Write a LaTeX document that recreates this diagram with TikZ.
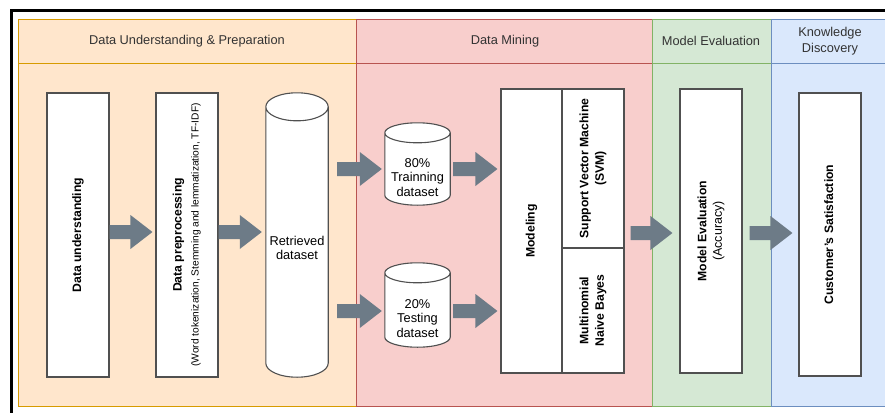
\documentclass[tikz,border=0pt]{standalone}
\usepackage{fontspec}
\usepackage{graphicx}
\setmainfont{Liberation Sans}
\usetikzlibrary{calc}
\definecolor{orfill}{HTML}{FFE6CC}
\definecolor{orline}{HTML}{D79B00}
\definecolor{rdfill}{HTML}{F8CECC}
\definecolor{rdline}{HTML}{B85450}
\definecolor{grfill}{HTML}{D5E8D4}
\definecolor{grline}{HTML}{82B366}
\definecolor{blfill}{HTML}{DAE8FC}
\definecolor{blline}{HTML}{6C8EBF}
\definecolor{arrowcol}{HTML}{6D7B87}
\definecolor{boxcol}{HTML}{505050}
\definecolor{txtcol}{HTML}{333333}
\newcommand\fhdr{\fontsize{12.8}{16}\selectfont}
\newcommand\fcyl{\fontsize{12.8}{14.6}\selectfont}
\newcommand\fbx{\fontsize{12.2}{15.5}\selectfont}
\newcommand\fsub{\fontsize{10.2}{12}\selectfont}
\newcommand\vt[1]{\rotatebox{90}{\begin{tabular}{@{}c@{}}#1\end{tabular}}}
\newcommand\barrow[2]{\fill[arrowcol] let \p1=(#1), \p2=(#2) in
  (\x1,\y1+7pt) -- (\x2-22pt,\y1+7pt) -- (\x2-22pt,\y1+17pt) -- (\x2,\y1)
  -- (\x2-22pt,\y1-17pt) -- (\x2-22pt,\y1-7pt) -- (\x1,\y1-7pt) -- cycle;}
\newcommand\cyl[2]{\draw[boxline, fill=white] let \p1=(#1.north west), \p2=(#1.south east), \n1={(\x2-\x1)/2} in
  (\x1,\y1-#2) -- (\x1,\y2+#2) arc[start angle=180, end angle=360, x radius=\n1, y radius=#2]
  -- (\x2,\y1-#2) arc[start angle=0, end angle=180, x radius=\n1, y radius=#2] -- cycle
  (\x1,\y1-#2) arc[start angle=180, end angle=360, x radius=\n1, y radius=#2];}
\tikzset{
  boxline/.style={draw=boxcol, line width=1.1pt},
  box/.style={boxline, fill=white, rectangle, inner sep=0pt, minimum width=62pt, font=\fbx\bfseries},
  cylgeo/.style={rectangle, inner sep=0pt, minimum width=#1},
  hdr/.style={align=center, text=txtcol, font=\fhdr, inner sep=0pt},
  ctext/.style={align=center, text=black, font=\fcyl, inner sep=0pt},
  pool/.style={line width=0.8pt}
}
\begin{document}
\begin{tikzpicture}[x=1pt,y=-1pt]
\useasboundingbox (0,0) rectangle (885,412);
\clip (0,0) rectangle (885,412);
\fill[white] (0,0) rectangle (885,412);
\draw[line width=2.6pt] (11.3,10.8) rectangle (900,430);
% pools
\draw[pool, fill=orfill, draw=orline] (18,19) rectangle (356,406);
\draw[pool, draw=orline] (18,63) -- (356,63);
\draw[pool, fill=rdfill, draw=rdline] (356,19) rectangle (652,406);
\draw[pool, draw=rdline] (356,63) -- (652,63);
\draw[pool, fill=grfill, draw=grline] (652,19) rectangle (771,406);
\draw[pool, draw=grline] (652,63) -- (771,63);
\draw[pool, fill=blfill, draw=blline] (771,19) rectangle (889,406);
\draw[pool, draw=blline] (771,63) -- (889,63);
\node[hdr] (h1) at (187,41) {Data Understanding \& Preparation};
\node[hdr] (h2) at (505,41) {Data Mining};
\node[hdr] (h3) at (711,41) {Model Evaluation};
\node[hdr] (h4) at (830,41.5) {Knowledge\\Discovery};
% boxes
\node[box, minimum height=284pt] (du) at (78,235) {\vt{Data understanding}};
\node[box, minimum height=284pt] (dp) at (187,235) {\vt{Data preprocessing\\[1.5pt] {\fsub\mdseries (Word tokenization, Stemming and lemmatization, TF-IDF)}}};
\node[cylgeo=62pt, minimum height=284pt] (ret) at (297,235) {};
\cyl{ret}{14pt}
\node[ctext] (rett) at (297,248) {Retrieved\\dataset};
\node[cylgeo=65pt, minimum height=82pt] (t80) at (417.5,164) {};
\cyl{t80}{10pt}
\node[ctext] (t80t) at (417.5,177.5) {80\%\\Trainning\\dataset};
\node[cylgeo=65pt, minimum height=84pt] (t20) at (417.5,305) {};
\cyl{t20}{10pt}
\node[ctext] (t20t) at (417.5,318.5) {20\%\\Testing\\dataset};
\node[box, minimum width=61pt, minimum height=284pt] (mod) at (531.5,231) {\vt{Modeling}};
\node[box, minimum height=159pt] (svm) at (593,168.5) {\vt{Support Vector Machine\\(SVM)}};
\node[box, minimum height=125pt] (mnb) at (593,310.5) {\vt{Multinomial\\Naive Bayes}};
\node[box, minimum height=284pt] (me) at (711,231) {\vt{Model Evaluation\\{\fontsize{12.5}{15}\selectfont\mdseries (Accuracy)}}};
\node[box, minimum height=283pt] (cs) at (830,234.5) {\vt{Customer's Satisfaction}};
% arrows
\barrow{$(du.east)+(0,-3)$}{$(dp.west)+(-3,0)$}
\barrow{$(dp.east)+(0,-3)$}{$(ret.west)+(-4,0)$}
\barrow{$(ret.east |- t80.center)+(9,5)$}{$(t80.west)+(-3,0)$}
\barrow{$(ret.east |- t20.center)+(9,6)$}{$(t20.west)+(-3,0)$}
\barrow{$(t80.east)+(3,5)$}{$(mod.west)+(-3,0)$}
\barrow{$(t20.east)+(3,6)$}{$(mod.west)+(-3,0)$}
\barrow{$(svm.east |- me.center)+(6,2)$}{$(me.west)+(-7,0)$}
\barrow{$(me.east)+(7,2)$}{$(cs.west)+(-6,0)$}
\end{tikzpicture}
\end{document}
